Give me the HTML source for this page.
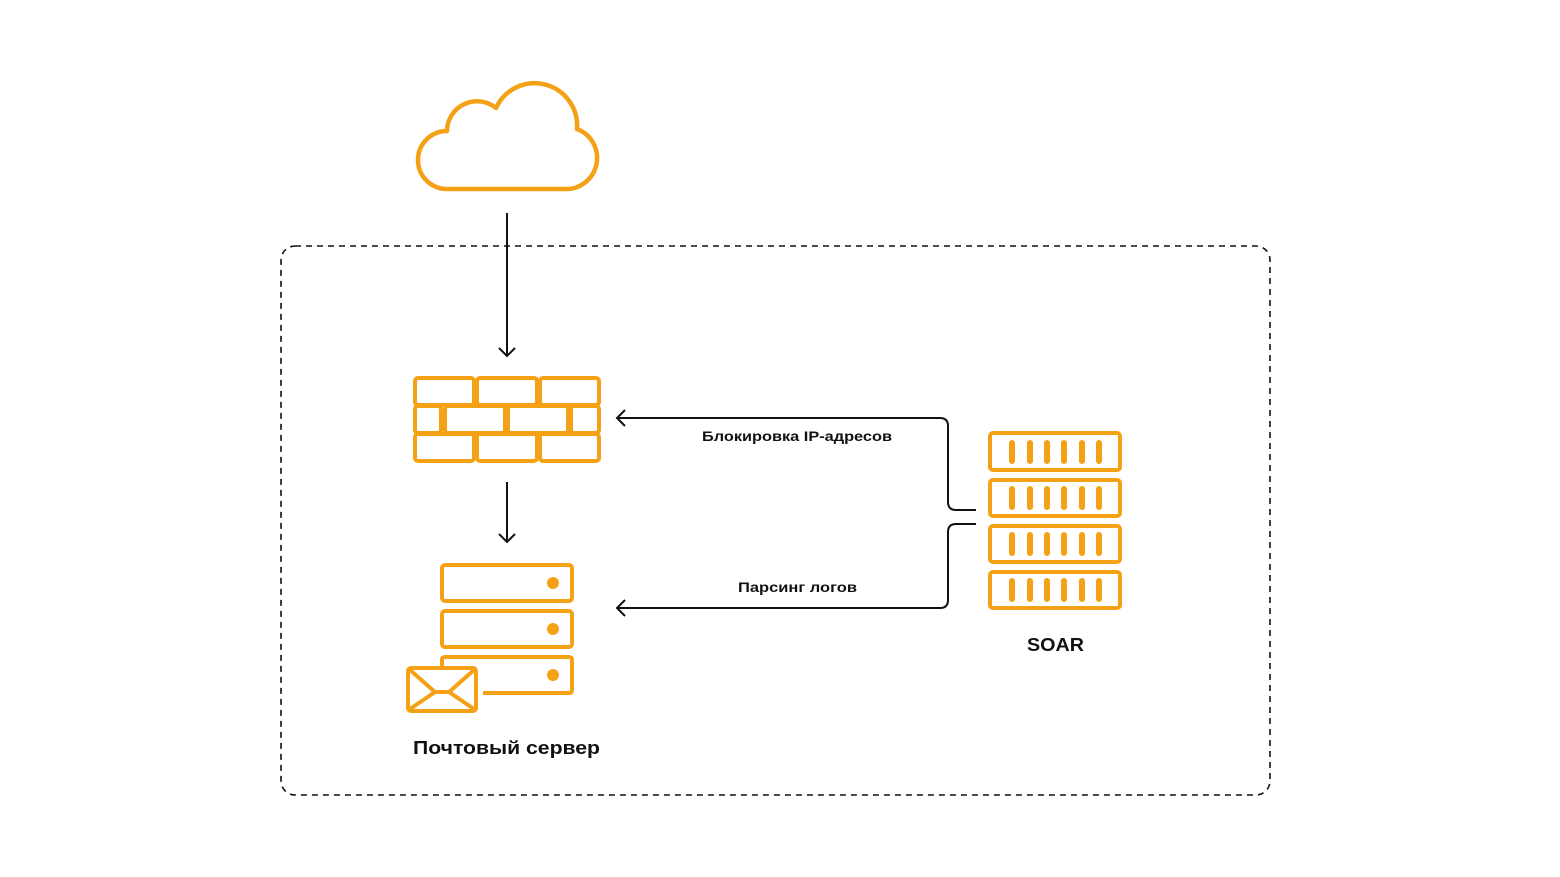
<!DOCTYPE html>
<html><head><meta charset="utf-8"><style>html,body{margin:0;padding:0;background:#fff}svg{display:block}</style></head>
<body>
<svg width="1560" height="877" viewBox="0 0 1560 877" xmlns="http://www.w3.org/2000/svg" font-family="Liberation Sans, sans-serif">
<rect x="281" y="246" width="989" height="549" rx="14" fill="none" stroke="#111" stroke-width="1.6" stroke-dasharray="6,5"/>
<g fill="none" stroke="#F5A116" stroke-width="4.5" stroke-linejoin="round">
<path d="M447 189 A29 29 0 0 1 447 131 A30 30 0 0 1 496 108 A42.5 42.5 0 0 1 577 129 A31 31 0 0 1 565 189 Z"/>
</g>
<g fill="none" stroke="#F5A116" stroke-width="4">
<rect x="415" y="378" width="59" height="27" rx="3"/><rect x="477" y="378" width="60" height="27" rx="3"/><rect x="540" y="378" width="59" height="27" rx="3"/>
<rect x="415" y="406" width="26" height="27" rx="3"/><rect x="445" y="406" width="60" height="27" rx="3"/><rect x="508" y="406" width="60" height="27" rx="3"/><rect x="571" y="406" width="28" height="27" rx="3"/>
<rect x="415" y="434" width="59" height="27" rx="3"/><rect x="477" y="434" width="60" height="27" rx="3"/><rect x="540" y="434" width="59" height="27" rx="3"/>
<rect x="442" y="565" width="130" height="36" rx="3"/><rect x="442" y="611" width="130" height="36" rx="3"/>
<path d="M442 666 V660 Q442 657 445 657 H569 Q572 657 572 660 V690 Q572 693 569 693 H483"/>
<rect x="408" y="668" width="68" height="43" rx="3"/>
<path d="M410 670 L435 692 H449 L474 670 M410 709 L435 692 M449 692 L474 709"/>
<rect x="990" y="433" width="130" height="37" rx="3"/><rect x="990" y="480" width="130" height="36" rx="3"/><rect x="990" y="526" width="130" height="36" rx="3"/><rect x="990" y="572" width="130" height="36" rx="3"/>
</g>
<g fill="#F5A116">
<circle cx="553" cy="583" r="6"/><circle cx="553" cy="629" r="6"/><circle cx="553" cy="675" r="6"/>
</g>
<g stroke="#F5A116" stroke-width="6" stroke-linecap="round">
<path d="M1012 443v18M1030 443v18M1047 443v18M1064 443v18M1082 443v18M1099 443v18"/>
<path d="M1012 489v18M1030 489v18M1047 489v18M1064 489v18M1082 489v18M1099 489v18"/>
<path d="M1012 535v18M1030 535v18M1047 535v18M1064 535v18M1082 535v18M1099 535v18"/>
<path d="M1012 581v18M1030 581v18M1047 581v18M1064 581v18M1082 581v18M1099 581v18"/>
</g>
<g fill="none" stroke="#111" stroke-width="2">
<path d="M507 213 V356 M499 348 L507 356 L515 348"/>
<path d="M507 482 V542 M499 534 L507 542 L515 534"/>
<path d="M976 510 H956 Q948 510 948 502 V426 Q948 418 940 418 H617 M625 410 L617 418 L625 426"/>
<path d="M976 524 H956 Q948 524 948 532 V600 Q948 608 940 608 H617 M625 600 L617 608 L625 616"/>
</g>
<g font-weight="bold" fill="#111">
<text x="702" y="441" font-size="14" textLength="190" lengthAdjust="spacingAndGlyphs">Блокировка IP-адресов</text>
<text x="738" y="592" font-size="14" textLength="119" lengthAdjust="spacingAndGlyphs">Парсинг логов</text>
<text x="1027" y="651" font-size="18" textLength="57" lengthAdjust="spacingAndGlyphs">SOAR</text>
<text x="413" y="754" font-size="18" textLength="187" lengthAdjust="spacingAndGlyphs">Почтовый сервер</text>
</g>
</svg>
</body></html>
